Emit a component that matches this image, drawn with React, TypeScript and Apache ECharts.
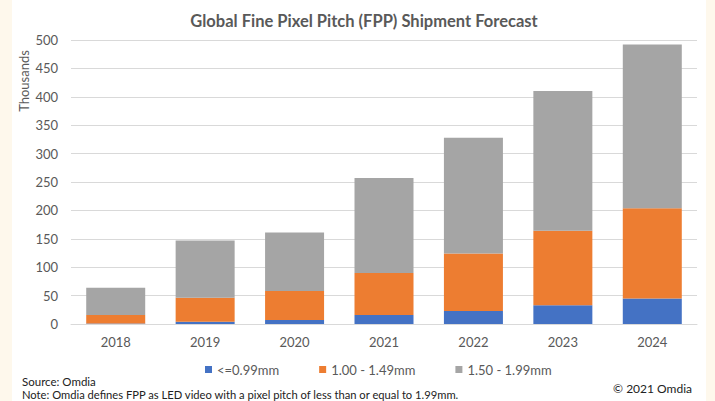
import React, { useEffect, useRef } from "react";
import * as echarts from "echarts";

const years = ["2018", "2019", "2020", "2021", "2022", "2023", "2024"];
const seriesNames = ["<=0.99mm", "1.00 - 1.49mm", "1.50 - 1.99mm"];
const small = [1, 4, 7, 16, 23, 33, 45];
const medium = [15, 42, 51, 74, 101, 131, 159];
const large = [48, 101, 103, 167, 204, 246, 288];
const colors = ["#4472C4", "#ED7D31", "#A5A5A5"];

const FONT = "Lato, 'Noto Sans', sans-serif";

export default function App() {
  const ref = useRef<HTMLDivElement>(null);
  useEffect(() => {
    document.body.style.margin = "0";
    if (!ref.current) return;
    const chart = echarts.init(ref.current, null, { renderer: "svg" });
    const data = [small, medium, large];
    chart.setOption({
      animation: false,
      backgroundColor: "#FEF8EC",
      textStyle: { fontFamily: FONT },
      title: {
        text: "Global Fine Pixel Pitch (FPP) Shipment Forecast",
        left: 359,
        textAlign: "center",
        top: 7,
        textStyle: { fontFamily: FONT, fontSize: 16.5, fontWeight: "bold", color: "#595959" },
      },
      grid: { left: 71, right: 18, top: 40, bottom: 77 },
      legend: {
        left: 200,
        top: 358,
        itemWidth: 7,
        itemHeight: 7,
        itemGap: 40,
        icon: "rect",
        textStyle: { fontFamily: FONT, fontSize: 13, color: "#595959" },
        data: seriesNames,
      },
      graphic: [
        { type: "rect", z: -10, shape: { x: 12, y: 0, width: 694, height: 401 }, style: { fill: "#ffffff" } },
        {
          type: "text",
          x: 24,
          y: 81,
          rotation: Math.PI / 2,
          style: { text: "Thousands", fontFamily: FONT, fontSize: 13, fill: "#595959", align: "center", verticalAlign: "middle" },
        },
        { type: "text", x: 22, y: 381, style: { text: "Source: Omdia", fontFamily: FONT, fontSize: 11.5, fill: "#222", verticalAlign: "middle" } },
        {
          type: "text",
          x: 22,
          y: 394,
          style: { text: "Note: Omdia defines FPP as LED video with a pixel pitch of less than or equal to 1.99mm.", fontFamily: FONT, fontSize: 11.2, fill: "#222", verticalAlign: "middle" },
        },
        { type: "text", x: 692, y: 388, style: { text: "© 2021 Omdia", fontFamily: FONT, fontSize: 12, fill: "#222", align: "right", verticalAlign: "middle" } },
      ],
      xAxis: {
        type: "category",
        data: years,
        axisLine: { lineStyle: { color: "#D9D9D9" } },
        axisTick: { show: false },
        axisLabel: { color: "#595959", fontSize: 13, margin: 11, fontFamily: FONT },
      },
      yAxis: {
        type: "value",
        min: 0,
        max: 500,
        interval: 50,
        axisLine: { show: false },
        axisTick: { show: false },
        splitLine: { lineStyle: { color: "#D9D9D9" } },
        axisLabel: { color: "#595959", fontSize: 13, margin: 13, fontFamily: FONT },
      },
      series: seriesNames.map((name, i) => ({
        name,
        type: "bar",
        stack: "total",
        barWidth: 59,
        data: data[i],
        itemStyle: { color: colors[i] },
      })),
    });
    return () => chart.dispose();
  }, []);
  return <div ref={ref} style={{ width: 715, height: 401 }} />;
}
